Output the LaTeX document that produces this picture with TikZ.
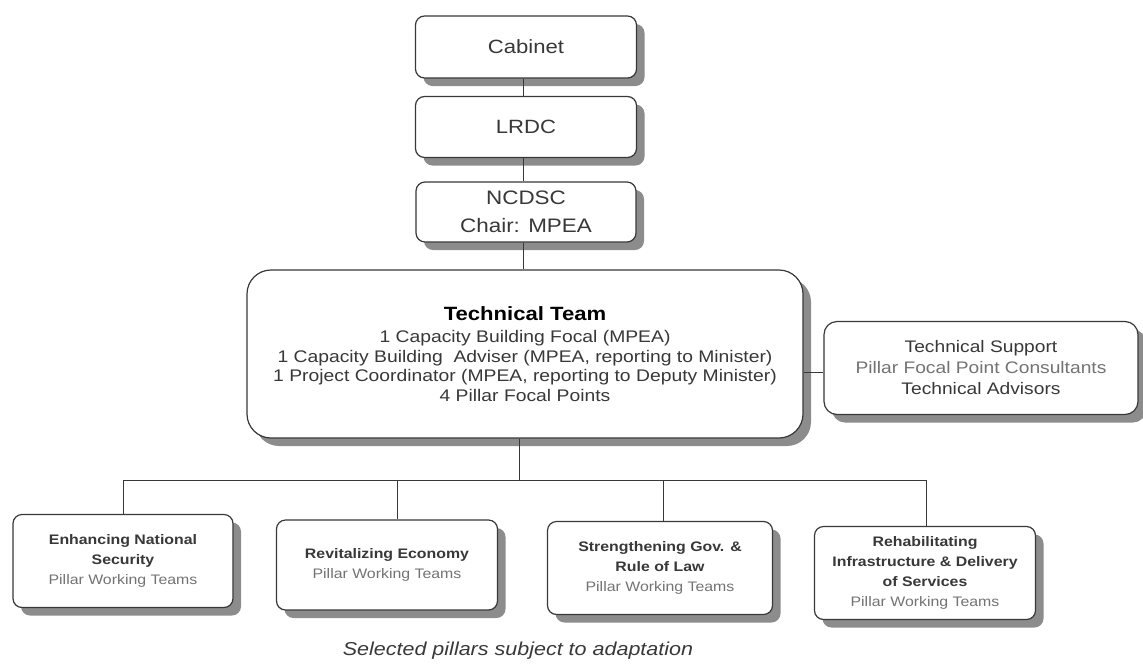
\documentclass[tikz,border=0pt]{standalone}
\usepackage{fontspec}
\setmainfont[FakeStretch=1.15]{Liberation Sans}
\usetikzlibrary{shadows}
\definecolor{boxline}{gray}{0.22}
\definecolor{subtext}{gray}{0.45}
\definecolor{bodytext}{gray}{0.22}
\tikzset{
  orgbox/.style={draw=boxline, line width=1.2pt, fill=white, rounded corners=9pt,
    align=center, inner sep=2pt, text=bodytext,
    drop shadow={shadow xshift=8pt, shadow yshift=-8pt, fill=black!45, opacity=1}},
  pillar/.style={orgbox, font=\fontsize{13.8}{20}\selectfont},
  link/.style={draw=boxline, line width=1pt},
}
\begin{document}
\begin{tikzpicture}[x=1pt,y=-1pt]
\useasboundingbox (0,0) rectangle (1143,665);
\node[orgbox, minimum width=221pt, minimum height=62pt, font=\fontsize{19.2}{26}\selectfont] (cab) at (526,47) {Cabinet};
\node[orgbox, minimum width=221pt, minimum height=61pt, font=\fontsize{19.2}{26}\selectfont] (lrdc) at (526,127) {LRDC};
\node[orgbox, minimum width=220pt, minimum height=60pt, font=\fontsize{19.5}{28}\selectfont] (ncd) at (526,212) {NCDSC\\Chair: MPEA};
\node[orgbox, rounded corners=24pt, minimum width=556pt, minimum height=168pt, font=\fontsize{16.8}{19.5}\selectfont] (tt) at (525,354)
 {{\fontsize{19.2}{24}\selectfont\bfseries\color{black} Technical Team}\\[3pt]
  1 Capacity Building Focal (MPEA)\\
  1 Capacity Building\ \ Adviser (MPEA, reporting to Minister)\\
  1 Project Coordinator (MPEA, reporting to Deputy Minister)\\
  4 Pillar Focal Points};
\node[orgbox, rounded corners=13pt, minimum width=314pt, minimum height=93pt, font=\fontsize{16.7}{21}\selectfont] (ts) at (981,368)
 {Technical Support\\{\color{subtext}Pillar Focal Point Consultants}\\Technical Advisors};
\node[pillar, minimum width=220pt, minimum height=93pt] (p1) at (123,561)
 {\bfseries Enhancing National\\\bfseries Security\\{\color{subtext}Pillar Working Teams}};
\node[pillar, minimum width=221pt, minimum height=90pt] (p2) at (387,565)
 {\bfseries Revitalizing Economy\\{\color{subtext}Pillar Working Teams}};
\node[pillar, minimum width=225pt, minimum height=93pt] (p3) at (660,568)
 {\bfseries Strengthening Gov. \&\\\bfseries Rule of Law\\{\color{subtext}Pillar Working Teams}};
\node[pillar, minimum width=221pt, minimum height=93pt] (p4) at (925,573)
 {\bfseries Rehabilitating\\\bfseries Infrastructure \& Delivery\\\bfseries of Services\\{\color{subtext}Pillar Working Teams}};
\node[font=\fontsize{18.7}{24}\selectfont\itshape, text=bodytext] (cap) at (518,651) {Selected pillars subject to adaptation};
\coordinate (spine) at (523,0);
\coordinate (bus) at (519,480);
\coordinate (b1) at (123,480);
\coordinate (b2) at (397,480);
\coordinate (b3) at (663,480);
\coordinate (b4) at (926,480);
\coordinate (tsy) at (0,372);
\draw[link] (cab.south -| spine) -- (lrdc.north -| spine);
\draw[link] (lrdc.south -| spine) -- (ncd.north -| spine);
\draw[link] (ncd.south -| spine) -- (tt.north -| spine);
\draw[link] (tt.east |- tsy) -- (ts.west |- tsy);
\draw[link] (tt.south -| bus) -- (bus);
\draw[link] (b1) -- (b4);
\draw[link] (b1) -- (b1 |- p1.north);
\draw[link] (b2) -- (b2 |- p2.north);
\draw[link] (b3) -- (b3 |- p3.north);
\draw[link] (b4) -- (b4 |- p4.north);
\end{tikzpicture}
\end{document}
